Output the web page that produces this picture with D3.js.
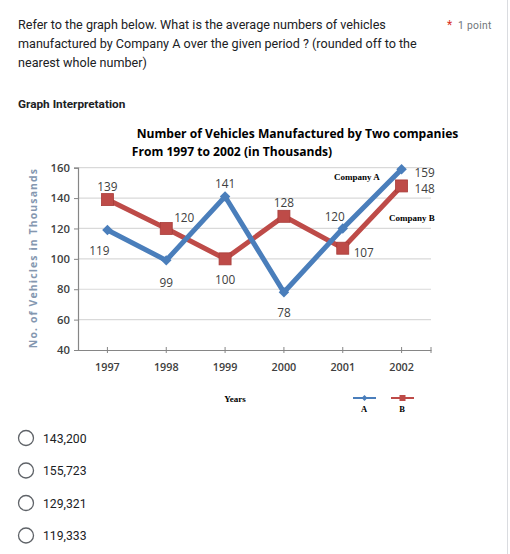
<!DOCTYPE html>
<html><head><meta charset="utf-8">
<script src="https://cdn.jsdelivr.net/npm/d3@7"></script>
<style>
html,body{margin:0;padding:0;background:#fff;}
svg{display:block;}
</style></head>
<body>
<svg id="c" width="510" height="554"></svg>
<script>
const years = ["1997","1998","1999","2000","2001","2002"];
const companyA = [119, 99, 141, 78, 120, 159];
const companyB = [139, 120, 100, 128, 107, 148];
const yTicks = [40, 60, 80, 100, 120, 140, 160];
const options = ["143,200", "155,723", "129,321", "119,333"];
const questionLines = [
  "Refer to the graph below. What is the average numbers of vehicles",
  "manufactured by Company A over the given period ? (rounded off to the",
  "nearest whole number)"
];
// label offsets (dx, dy) relative to point, per series
const offA = [[-8,21],[0,23],[0,-13],[0,21],[-8,-11],[23,4]];
const offB = [[0,-13],[18,-10],[0,21],[0,-13],[21,5],[23,3]];

const svg = d3.select("#c");
const blue = "#4a7ebb", red = "#be4b48";

svg.append("line").attr("x1",507.5).attr("x2",507.5).attr("y1",0).attr("y2",554)
  .attr("stroke","#dadce0").attr("stroke-width",1);

questionLines.forEach((t,i)=>{
  svg.append("text").attr("x",18).attr("y",29+i*18.8)
    .attr("font-family","Roboto, Arial, sans-serif").attr("font-size",12.6)
    .attr("fill","#202124").text(t);
});
svg.append("text").attr("x",447).attr("y",29).attr("font-family","Roboto, sans-serif")
  .attr("font-size",12).attr("fill","#d93025").text("*");
svg.append("text").attr("x",458).attr("y",29).attr("font-family","Roboto, sans-serif")
  .attr("font-size",10.3).attr("fill","#70757a").attr("letter-spacing",0.3).text("1 point");
svg.append("text").attr("x",18).attr("y",108).attr("font-family","Roboto, Arial, sans-serif")
  .attr("font-size",11.8).attr("font-weight","bold").attr("fill","#202124").text("Graph Interpretation");

const x = d3.scaleBand().domain(years).range([78, 431]);
const y = d3.scaleLinear().domain([40,160]).range([350, 167.7]);
const cx = d => x(d) + x.bandwidth()/2;

svg.append("g").selectAll("line").data(yTicks.slice(1)).join("line")
  .attr("x1",78).attr("x2",431).attr("y1",d=>y(d)).attr("y2",d=>y(d))
  .attr("stroke","#d9d9d9").attr("stroke-width",1.2);

const yAxis = d3.axisLeft(y).tickValues(yTicks).tickSize(4).tickPadding(4);
const gy = svg.append("g").attr("transform","translate(78,0)").call(yAxis);
gy.select(".domain").attr("stroke","#868686").attr("stroke-width",1.2);
gy.selectAll(".tick line").attr("stroke","#868686");
gy.selectAll(".tick text").attr("font-family","'Open Sans', sans-serif").attr("font-size",11.3)
  .attr("font-weight","600").attr("fill","#404040");

const xAxis = d3.axisBottom(x).tickSize(4).tickPadding(9).tickSizeOuter(0);
const gx = svg.append("g").attr("transform","translate(0,350)").call(xAxis);
gx.select(".domain").attr("stroke","#868686").attr("stroke-width",1.2);
gx.selectAll(".tick line").attr("stroke","#868686").attr("y1",-3).attr("y2",3);
gx.selectAll(".tick text").attr("font-family","'Open Sans', sans-serif").attr("font-size",10.8)
  .attr("font-weight","600").attr("fill","#404040");
gx.append("line").attr("x1",431).attr("x2",431).attr("y1",-3).attr("y2",3).attr("stroke","#868686");

const line = d3.line().x((d,i)=>cx(years[i])).y(d=>y(d));
svg.append("path").datum(companyB).attr("d",line).attr("fill","none")
  .attr("stroke",red).attr("stroke-width",5).attr("stroke-linejoin","miter");
svg.append("path").datum(companyA).attr("d",line).attr("fill","none")
  .attr("stroke",blue).attr("stroke-width",5).attr("stroke-linejoin","miter");

svg.append("g").selectAll("rect").data(companyB).join("rect")
  .attr("x",(d,i)=>cx(years[i])-6).attr("y",d=>y(d)-6).attr("width",12).attr("height",12)
  .attr("fill",red).attr("stroke","#a83c39").attr("stroke-width",0.8);
svg.append("g").selectAll("path").data(companyA).join("path")
  .attr("d",d3.symbol(d3.symbolDiamond2,70))
  .attr("transform",(d,i)=>`translate(${cx(years[i])},${y(d)})`)
  .attr("fill",blue);

function labels(data, off){
  svg.append("g").selectAll("text").data(data).join("text")
    .attr("x",(d,i)=>cx(years[i])+off[i][0]).attr("y",(d,i)=>y(d)+off[i][1]+4)
    .attr("text-anchor","middle").attr("font-family","'Open Sans', sans-serif")
    .attr("font-size",11.8).attr("fill","#404040").text(d=>d);
}
labels(companyA, offA);
labels(companyB, offB);

svg.append("text").attr("x",297.5).attr("y",138).attr("text-anchor","middle")
  .attr("font-family","'Open Sans', sans-serif").attr("font-weight","bold").attr("font-size",12.1)
  .attr("fill","#000").text("Number of Vehicles Manufactured by Two companies");
svg.append("text").attr("x",232).attr("y",156).attr("text-anchor","middle")
  .attr("font-family","'Open Sans', sans-serif").attr("font-weight","bold").attr("font-size",12.1)
  .attr("fill","#000").text("From 1997 to 2002 (in Thousands)");

svg.append("text").attr("transform","translate(37,258) rotate(-90)").attr("text-anchor","middle")
  .attr("font-family","'Open Sans', sans-serif").attr("font-weight","bold").attr("font-size",10.5)
  .attr("letter-spacing",1.1).attr("fill","#8497b0").text("No. of Vehicles in Thousands");

const serif = "'Liberation Serif', 'Times New Roman', serif";
svg.append("text").attr("x",357).attr("y",180).attr("text-anchor","middle").attr("font-family",serif)
  .attr("font-weight","bold").attr("font-size",9).attr("fill","#000").text("Company A");
svg.append("text").attr("x",412).attr("y",221).attr("text-anchor","middle").attr("font-family",serif)
  .attr("font-weight","bold").attr("font-size",9).attr("fill","#000").text("Company B");
svg.append("text").attr("x",235).attr("y",402).attr("text-anchor","middle").attr("font-family",serif)
  .attr("font-weight","bold").attr("font-size",9).attr("fill","#000").text("Years");

const leg = [{k:"A",c:blue,x:353},{k:"B",c:red,x:391}];
leg.forEach(l=>{
  svg.append("line").attr("x1",l.x).attr("x2",l.x+23).attr("y1",398).attr("y2",398)
    .attr("stroke",l.c).attr("stroke-width",2);
  if(l.k==="A") svg.append("path").attr("d",d3.symbol(d3.symbolDiamond2,22))
    .attr("transform",`translate(${l.x+11.5},398)`).attr("fill",l.c);
  else svg.append("rect").attr("x",l.x+8.5).attr("y",395).attr("width",6).attr("height",6).attr("fill",l.c);
  svg.append("text").attr("x",l.x+11).attr("y",412).attr("text-anchor","middle").attr("font-family",serif)
    .attr("font-weight","bold").attr("font-size",8.5).attr("fill","#000").text(l.k);
});

options.forEach((o,i)=>{
  const cy = 438 + i*32.5;
  svg.append("circle").attr("cx",26).attr("cy",cy).attr("r",7.5).attr("fill","none")
    .attr("stroke","#5f6368").attr("stroke-width",1.3);
  svg.append("text").attr("x",43).attr("y",cy+4.5).attr("font-family","Roboto, Arial, sans-serif")
    .attr("font-size",12.2).attr("fill","#202124").text(o);
});
</script>
</body></html>
